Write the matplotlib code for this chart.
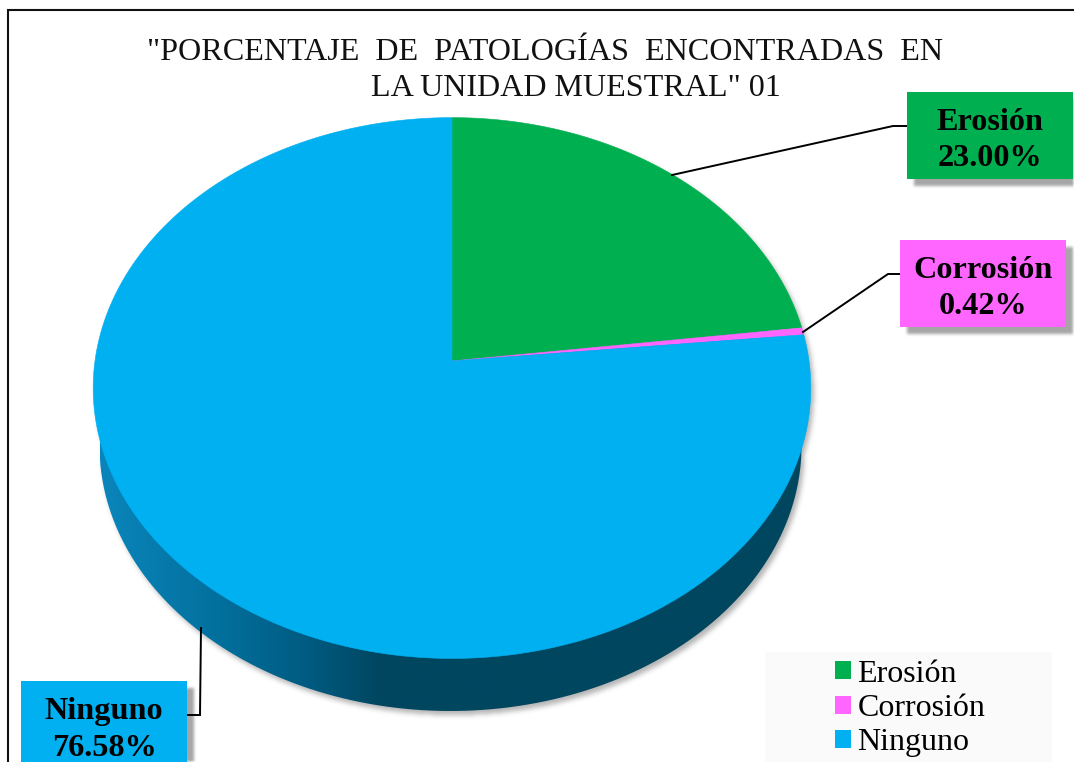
import numpy as np
from matplotlib import pyplot as plt
from matplotlib.colors import LinearSegmentedColormap
from matplotlib.patches import Patch, PathPatch, Rectangle
from matplotlib.path import Path

categories = ["Erosión", "Corrosión", "Ninguno"]
values = [23.00, 0.42, 76.58]
slice_colors = ["#00b050", "#ff66ff", "#00b0f0"]
title_lines = ['"PORCENTAJE  DE  PATOLOGÍAS  ENCONTRADAS  EN', 'LA UNIDAD MUESTRAL" 01']

WIDTH, HEIGHT = 1074, 762
plt.rcParams["font.family"] = ["Liberation Serif", "DejaVu Serif"]


# pie seen in perspective, the centre is not the middle of the ellipse
APEX_X, APEX_Y = 452, 361
RX, RY, K = 357, 267.7, 0.1
BOTTOM_CX, BOTTOM_RX, BOTTOM_RY, BOTTOM_Y = 450.5, 351, 265, 446


def rim(theta):
    u, v = np.sin(theta), np.cos(theta)
    return APEX_X + RX * u / (1 + K * v), APEX_Y - RY * v / (1 + K * v)


def blurred(mask, size):
    kernel = np.ones(size) / size
    for _ in range(3):
        mask = np.apply_along_axis(lambda row: np.convolve(row, kernel, mode="same"), 1, mask)
        mask = np.apply_along_axis(lambda col: np.convolve(col, kernel, mode="same"), 0, mask)
    return mask


fig = plt.figure(figsize=(WIDTH / 100, HEIGHT / 100), dpi=100)
ax = fig.add_axes([0, 0, 1, 1])

circle = np.linspace(0, 2 * np.pi, 500)
top_x, top_y = rim(circle)
bottom_x = BOTTOM_CX + BOTTOM_RX * np.sin(circle)
bottom_y = BOTTOM_Y - BOTTOM_RY * np.cos(circle)

# soft shadows, pie and label boxes
yy, xx = np.mgrid[0:HEIGHT, 0:WIDTH]
grid = np.column_stack([xx.ravel() + 0.5, yy.ravel() + 0.5])
pie_shadow = Path(np.column_stack([bottom_x + 3, bottom_y + 4])).contains_points(grid)
pie_shadow |= Path(np.column_stack([top_x + 3, top_y + 4])).contains_points(grid)
pie_shadow = blurred(pie_shadow.reshape(HEIGHT, WIDTH).astype(float), 5) * 0.5

boxes = [(907, 92, 166, 87), (900, 240, 166, 87), (21, 681, 166, 90)]
box_shadow = np.zeros((HEIGHT, WIDTH))
for bx, by, bw, bh in boxes:
    box_shadow[by + 7:by + bh + 7, bx + 7:bx + bw + 7] = 1
box_shadow = blurred(box_shadow, 3) * 0.6

shadow = np.zeros((HEIGHT, WIDTH, 4))
shadow[..., :3] = 0.42
shadow[..., 3] = np.maximum(pie_shadow, box_shadow)
ax.imshow(shadow, extent=(0, WIDTH, HEIGHT, 0), aspect="auto", zorder=1)

# side of the pie
side_cmap = LinearSegmentedColormap.from_list(
    "side", [(0, "#0a85bb"), (0.16, "#03719f"), (0.30, "#005a80"), (0.40, "#00465f"), (1, "#00465f")])
side = ax.imshow(np.linspace(0, 1, 512)[None, :], cmap=side_cmap, aspect="auto", zorder=2,
                 extent=(BOTTOM_CX - BOTTOM_RX, BOTTOM_CX + BOTTOM_RX, HEIGHT, 0))
side_patch = PathPatch(Path(np.column_stack([bottom_x, bottom_y])), transform=ax.transData, fc="none", ec="none")
ax.add_patch(side_patch)
side.set_clip_path(side_patch)

# top face
start = 0.0
total = sum(values)
for value, color in zip(values, slice_colors):
    theta = np.linspace(start, start + value / total * 2 * np.pi, 300)
    x, y = rim(theta)
    ax.fill(np.r_[APEX_X, x], np.r_[APEX_Y, y], color=color, lw=0.4, zorder=3)
    start = theta[-1]

# leader lines
leaders = [[(672, 175), (893, 126), (907, 126)],
           [(803, 332), (888, 274), (900, 274)],
           [(201, 628), (200, 715), (187, 715)]]
for leader in leaders:
    ax.plot(*zip(*leader), color="black", lw=1.4, zorder=4, solid_joinstyle="miter")

# data labels
for (bx, by, bw, bh), name, value, color in zip(boxes, categories, values, slice_colors):
    ax.add_patch(Rectangle((bx, by), bw, bh, fc=color, ec="none", zorder=5))
    ax.text(bx + bw / 2, by + 30, name, fontsize=23.2, fontweight="bold", ha="center", va="center", zorder=6)
    ax.text(bx + bw / 2, by + 67, f"{value:.2f}%", fontsize=23.2, fontweight="bold", ha="center", va="center", zorder=6)

# outer frame, only left and top are in the picture
ax.plot([7.5, 7.5, WIDTH], [HEIGHT, 9.5, 9.5], color="#111111", lw=1.5, zorder=7, solid_joinstyle="miter")

ax.text(545, 53, title_lines[0], fontsize=23.1, ha="center", va="center", color="#111111", zorder=6)
ax.text(576, 89, title_lines[1], fontsize=23.1, ha="center", va="center", color="#111111", zorder=6)

# legend
ax.add_patch(Rectangle((765, 652), 287, 110, fc="#fafafa", ec="none", zorder=5))
handles = [Patch(fc=color, ec="none", label=name) for name, color in zip(categories, slice_colors)]
legend = ax.legend(handles=handles, loc="upper left", bbox_to_anchor=(809, 634), bbox_transform=ax.transData,
                   frameon=False, fontsize=23, handlelength=0.5, handleheight=0.5, handletextpad=0.22,
                   labelspacing=0.17, borderpad=0.3)
legend.set_zorder(6)

ax.set_xlim(0, WIDTH)
ax.set_ylim(HEIGHT, 0)
ax.axis("off")
fig.savefig("out.png", dpi=100)
